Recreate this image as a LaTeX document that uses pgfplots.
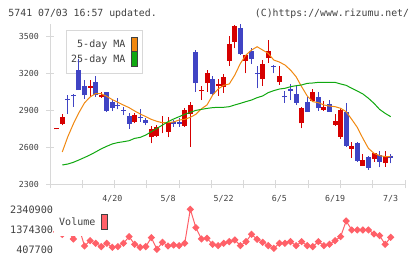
\documentclass[border=0pt]{standalone}
\usepackage{pgfplots}
\pgfplotsset{compat=1.18}
\usepackage{pgfplotstable}
\usepackage{fontspec}
\newfontfamily\chartfont{DejaVu Sans Mono}

\definecolor{upred}{RGB}{214,0,0}
\definecolor{downblue}{RGB}{64,68,196}
\definecolor{maorange}{RGB}{240,136,16}
\definecolor{magreen}{RGB}{16,168,16}
\definecolor{volred}{RGB}{255,96,104}
\definecolor{axisgray}{RGB}{216,216,216}
\definecolor{textgray}{RGB}{64,64,64}

% daily candles, j = trading day index (0 = first day shown)
\pgfplotstableread{
j  o    h    l    c
0  2742 2752 2742 2752
1  2790 2868 2776 2841
6  3081 3143 3008 3097
8  3003 3050 2998 3019
14 2805 2873 2792 2857
17 2679 2770 2630 2748
18 2692 2776 2684 2765
19 2795 2851 2711 2805
20 2724 2846 2679 2805
23 2771 2914 2765 2900
24 2865 2968 2602 2941
26 3052 3095 2981 3062
27 3116 3224 3049 3197
29 3097 3149 3016 3111
30 3084 3192 3041 3165
31 3300 3503 3259 3435
32 3454 3590 3400 3581
34 3300 3350 3197 3346
37 3151 3305 3097 3273
38 3319 3468 3284 3378
40 3127 3259 3103 3176
44 2792 2922 2752 2914
46 2976 3070 2976 3049
48 2900 2973 2895 2922
50 2778 2865 2770 2811
51 2684 2914 2665 2900
53 2586 2643 2513 2608
55 2449 2541 2449 2495
57 2500 2554 2481 2549
59 2468 2565 2441 2527
}\upcandles

\pgfplotstableread{
j  o    h    l    c
2  2989 3022 2868 2980
3  3022 3030 2927 3010
4  3224 3311 3062 3062
5  3095 3143 2992 3019
7  3127 3176 3008 3024
9  3046 3046 2884 2890
10 2965 2985 2890 2918
11 2943 2995 2905 2933
12 2900 2927 2859 2892
13 2851 2873 2748 2789
15 2846 2905 2805 2834
16 2819 2833 2778 2797
21 2805 2819 2765 2787
22 2805 2833 2765 2787
25 3368 3386 3049 3116
28 3149 3176 3016 3027
33 3565 3598 3346 3354
35 3378 3400 3271 3316
36 3200 3257 3076 3190
39 3257 3265 3197 3248
41 3014 3057 2959 3003
42 3070 3108 2981 3058
43 3030 3103 2941 2960
45 2968 3003 2886 2886
47 3003 3046 2895 2914
49 2946 2981 2886 2886
52 2884 2954 2603 2611
54 2630 2643 2481 2489
56 2522 2530 2414 2433
58 2535 2565 2435 2481
60 2527 2543 2468 2508
}\downcandles

\pgfplotstableread{
j v
1 2560
2 2684
3 2788
4 2879
5 2958
6 3006
7 3033
8 3032
9 3010
10 2984
11 2962
12 2940
13 2919
14 2892
15 2868
16 2846
17 2824
18 2808
19 2797
20 2797
21 2803
22 2819
23 2824
24 2841
25 2865
26 2910
27 2941
28 3020
29 3070
30 3100
31 3111
32 3184
33 3278
34 3346
35 3386
36 3413
37 3386
38 3359
39 3305
40 3289
41 3265
42 3224
43 3170
44 3089
45 3014
46 2968
47 2959
48 2941
49 2932
50 2927
51 2914
52 2886
53 2824
54 2759
55 2670
56 2589
57 2549
58 2530
59 2522
60 2522
}\maFive

\pgfplotstableread{
j v
1 2454
2 2462
3 2476
4 2495
5 2515
6 2536
7 2560
8 2585
9 2606
10 2625
11 2636
12 2643
13 2651
14 2670
15 2678
16 2697
17 2724
18 2751
19 2778
20 2805
21 2827
22 2846
23 2865
24 2881
25 2897
26 2905
27 2913
28 2919
29 2922
30 2922
31 2927
32 2941
33 2954
34 2968
35 2981
36 3000
37 3014
38 3041
39 3057
40 3070
41 3076
42 3089
43 3097
44 3103
45 3116
46 3119
47 3124
48 3124
49 3124
50 3124
51 3111
52 3100
53 3076
54 3054
55 3030
56 2995
57 2954
58 2905
59 2873
60 2846
}\maTwentyFive

\pgfplotstableread{
j v
0 1250000
1 1130000
2 1300000
3 905000
4 1450000
5 568800
6 826600
7 697700
8 536600
9 697700
10 504400
11 536600
12 697700
13 1019900
14 649300
15 504400
16 536600
17 971600
18 407700
19 746000
20 568800
21 617100
22 584900
23 697700
24 2340900
25 1454900
26 907100
27 939300
28 649300
29 584900
30 697700
31 778200
32 858800
33 584900
34 778200
35 1132600
36 891000
37 746000
38 584900
39 456000
40 697700
41 697700
42 778200
43 584900
44 778200
45 584900
46 536600
47 778200
48 584900
49 649300
50 826600
51 1019900
52 1777100
53 1342100
54 1342100
55 1342100
56 1342100
57 1148800
58 1068200
59 649300
60 987700
}\volume

\begin{document}
\begin{tikzpicture}

\node[anchor=base west, inner sep=0pt, text=textgray,
      font=\chartfont\fontsize{9.85}{11}\selectfont] at (8.3pt,-16.7pt)
      {5741 07/03 16:57 updated.};
\node[anchor=base east, inner sep=0pt, text=textgray,
      font=\chartfont\fontsize{9.85}{11}\selectfont] at (409.3pt,-16.7pt)
      {(C)https://www.rizumu.net/};

% price panel
\begin{axis}[
  at={(50pt,-184pt)}, anchor=south west,
  scale only axis, width=355pt, height=160.33pt,
  set layers,
  xmin=-1.2035, xmax=62.566,
  ymin=2300, ymax=3600,
  axis x line=bottom, axis y line=left,
  axis line style={draw=axisgray, line width=1pt, -},
  tick style={draw=axisgray, line width=1pt},
  tick align=center,
  xtick={10,20,30,40,50,60},
  xticklabels={4/20,5/8,5/22,6/5,6/19,7/3},
  major x tick style={draw=none},
  minor xtick={-1.2035,4.594,10.391,16.188,21.985,27.782,33.579,39.376,45.173,50.970,56.767,62.566},
  minor tick length=8.6pt,
  ytick={2300,2600,2900,3200,3500},
  yticklabels={2300,2600,2900,3200,3500},
  major tick length=8pt,
  xticklabel style={font=\chartfont\fontsize{8.3}{10}\selectfont, text=textgray,
                    anchor=north, inner sep=0pt, yshift=-7pt},
  yticklabel style={font=\chartfont\fontsize{8.3}{10}\selectfont, text=textgray,
                    anchor=east, inner sep=0pt, xshift=-7pt},
  legend style={at={(rel axis cs:0.0442,0.9605)}, anchor=north west,
                draw=axisgray, line width=1pt, fill=white,
                font=\chartfont\fontsize{10}{12}\selectfont, text=textgray,
                inner xsep=4pt, inner ysep=6pt, row sep=-1.3pt, column sep=5pt,
                nodes={inner sep=1pt}},
  legend cell align=right, legend plot pos=right,
]
% wicks and bodies of rising days
\addplot[forget plot, on layer=axis foreground, draw=none, mark=none,
  error bars/.cd, y dir=plus, y explicit, error mark=none,
  error bar style={draw=upred, line width=1pt}]
  table[x=j, y=l, y error expr=\thisrow{h}-\thisrow{l}] {\upcandles};
\addplot[forget plot, on layer=axis foreground, draw=none, mark=none,
  error bars/.cd, y dir=plus, y explicit, error mark=none,
  error bar style={draw=upred, line width=5pt}]
  table[x=j, y=o, y error expr=\thisrow{c}-\thisrow{o}] {\upcandles};
% wicks and bodies of falling days
\addplot[forget plot, on layer=axis foreground, draw=none, mark=none,
  error bars/.cd, y dir=plus, y explicit, error mark=none,
  error bar style={draw=downblue, line width=1pt}]
  table[x=j, y=l, y error expr=\thisrow{h}-\thisrow{l}] {\downcandles};
\addplot[forget plot, on layer=axis foreground, draw=none, mark=none,
  error bars/.cd, y dir=plus, y explicit, error mark=none,
  error bar style={draw=downblue, line width=5pt}]
  table[x=j, y=c, y error expr=\thisrow{o}-\thisrow{c}] {\downcandles};

\addplot[on layer=axis foreground, maorange, line width=1pt, mark=none,
  legend image code/.code={\draw[fill=maorange, draw=black!75, line width=0.9pt]
    (0pt,-7.5pt) rectangle (6pt,7.5pt);}]
  table[x=j, y=v] {\maFive};
\addlegendentry{5-day MA}
\addplot[on layer=axis foreground, magreen, line width=1pt, mark=none,
  legend image code/.code={\draw[fill=magreen, draw=black!75, line width=0.9pt]
    (0pt,-7.5pt) rectangle (6pt,7.5pt);}]
  table[x=j, y=v] {\maTwentyFive};
\addlegendentry{25-day MA}
\end{axis}

% volume panel
\begin{axis}[
  at={(50pt,-257pt)}, anchor=south west,
  scale only axis, width=355pt, height=52pt,
  xmin=-1.2035, xmax=62.566,
  ymin=35559, ymax=2548719,
  hide x axis,
  axis y line=left, y axis line style={draw=none},
  major tick length=0pt, ytick style={draw=none},
  scaled y ticks=false,
  ytick={407700,1374300,2340900},
  yticklabels={407700,1374300,2340900},
  yticklabel style={font=\chartfont\fontsize{10.2}{12}\selectfont, text=textgray,
                    anchor=east, inner sep=0pt, xshift=3.3pt},
  legend style={at={(rel axis cs:0.0113,0.668)}, anchor=west,
                draw=none, fill=white,
                font=\chartfont\fontsize{10}{12}\selectfont, text=textgray,
                inner xsep=4pt, inner ysep=5.5pt, column sep=5pt,
                nodes={inner sep=1pt}},
  legend cell align=right, legend plot pos=right,
]
\addplot[volred, line width=1pt, mark=square*, mark size=2.1pt,
  mark options={rotate=45, draw=volred, fill=volred},
  legend image code/.code={\draw[fill=volred, draw=black!75, line width=0.9pt]
    (0pt,-7.5pt) rectangle (6pt,7.5pt);}]
  table[x=j, y=v] {\volume};
\addlegendentry{Volume}
\end{axis}

\pgfresetboundingbox
\useasboundingbox (0,0) rectangle (420pt,-259pt);
\end{tikzpicture}
\end{document}
